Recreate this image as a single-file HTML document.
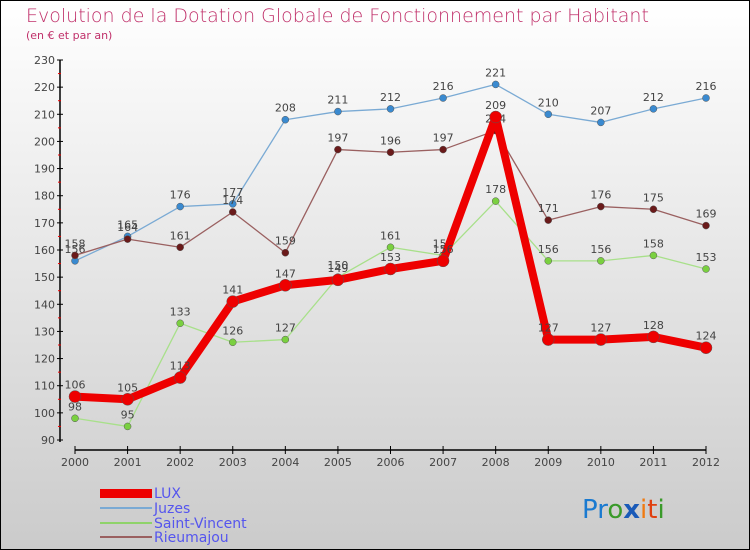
<!DOCTYPE html>
<html><head><meta charset="utf-8"><style>
body{margin:0}
#c{width:750px;height:550px;position:relative;box-sizing:border-box;border:1px solid #000;background:linear-gradient(#ffffff,#cbcbcb);font-family:"DejaVu Sans","Liberation Sans",sans-serif;overflow:hidden}
</style></head><body>
<div id="c">
<svg id="s" width="750" height="550" style="position:absolute;left:-1px;top:-1px">
<text x="26" y="22" font-size="19" fill="#c0306a" font-family="DejaVu Sans,sans-serif" font-weight="200">Evolution de la Dotation Globale de Fonctionnement par Habitant</text>
<text x="26" y="39" font-size="11" fill="#c0306a">(en € et par an)</text>
<g id="axes"></g><g id="series"></g>
<g font-size="14" fill="#5555ee">
<rect x="100" y="489" width="52" height="9" fill="#e00"/>
<text x="154" y="498">LUX</text>
<rect x="100" y="507" width="52" height="2" fill="#7aaad4"/><text x="154" y="513">Juzes</text>
<rect x="100" y="522" width="52" height="2" fill="#8fd36a"/><text x="154" y="528">Saint-Vincent</text>
<rect x="100" y="536" width="52" height="2" fill="#9a6060"/><text x="154" y="542">Rieumajou</text>
</g>
<text x="582" y="518" font-size="26" font-family="DejaVu Sans,sans-serif"><tspan fill="#1a7ad0">Pr</tspan><tspan fill="#3a9a2a">o</tspan><tspan fill="#1a5ab8" font-weight="bold">x</tspan><tspan fill="#f07a10">i</tspan><tspan fill="#e04010">t</tspan><tspan fill="#3a9a2a">i</tspan></text>
</svg>
</div>
<script>
const years=[2000,2001,2002,2003,2004,2005,2006,2007,2008,2009,2010,2011,2012];
const yTicks=[90,100,110,120,130,140,150,160,170,180,190,200,210,220,230];
const lux=[106,105,113,141,147,149,153,156,209,127,127,128,124];
const juzes=[156,165,176,177,208,211,212,216,221,210,207,212,216];
const saintVincent=[98,95,133,126,127,150,161,158,178,156,156,158,153];
const rieumajou=[158,164,161,174,159,197,196,197,204,171,176,175,169];
const NS="http://www.w3.org/2000/svg";
const X=i=>75+i*(706-75)/12;
const Y=v=>440-(v-90)*(380/140);
function mk(t,a,p){const e=document.createElementNS(NS,t);for(const k in a)e.setAttribute(k,a[k]);p.appendChild(e);return e;}
const ax=document.getElementById('axes');
const ya=mk('line',{x1:60,y1:60,x2:60,y2:442,stroke:'#000','stroke-width':1.5},ax);


yTicks.forEach(v=>{
  mk('line',{x1:57,x2:63,y1:Y(v),y2:Y(v),stroke:'#000'},ax);
  if(v<230) mk('line',{x1:58,x2:61,y1:Y(v+5),y2:Y(v+5),stroke:'#e00'},ax);
  const t=mk('text',{x:55,y:Y(v)+4,'text-anchor':'end','font-size':11,fill:'#444'},ax);
  t.textContent=v;
  
  
});
const xa=mk('line',{x1:75,y1:450,x2:706,y2:450,stroke:'#000','stroke-width':1.5},ax);


years.forEach((y,i)=>{
  mk('line',{x1:X(i),x2:X(i),y1:446,y2:454,stroke:'#000'},ax);
  const t=mk('text',{x:X(i),y:466,'text-anchor':'middle','font-size':11,fill:'#444'},ax);
  t.textContent=y;
  
  
});
const sg=document.getElementById('series');
function draw(data,name,col,dot,w,r){
  const g=mk('g',{},sg);
  
  
  const l=mk('polyline',{points:data.map((v,i)=>X(i)+','+Y(v)).join(' '),fill:'none',stroke:col,'stroke-width':w,'stroke-linejoin':'round'},g);
  
  
  data.forEach((v,i)=>{
    const c=mk('circle',{cx:X(i),cy:Y(v),r:r,fill:dot,stroke:'#555','stroke-width':0.5},g);
    
    
    const t=mk('text',{x:X(i),y:Y(v)-8,'text-anchor':'middle','font-size':11,fill:'#444'},g);
    t.textContent=v;
    
    
  });
}
draw(juzes,'juzes','#7aaad4','#3a8ad0',1.3,3.5);
draw(rieumajou,'rieumajou','#9a6060','#6a1a1a',1.3,3.5);
draw(saintVincent,'saint-vincent','#a8e08a','#7ad040',1.3,3.5);
draw(lux,'lux','#ee0000','#ee0000',8,6);
</script>
</body></html>
